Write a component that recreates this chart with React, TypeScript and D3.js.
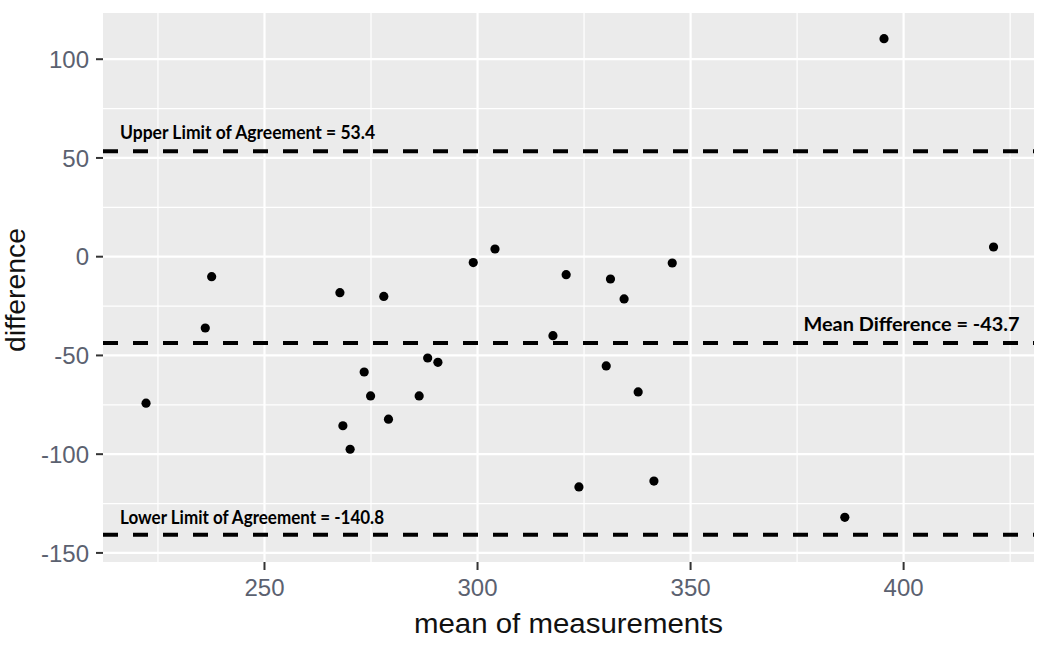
import React from "react";
import * as d3 from "d3";

const meanVals = [222.2, 237.6, 236.1, 267.7, 278.0, 299.0, 304.1, 273.4, 274.9, 268.4, 270.1, 279.1, 286.3, 288.3, 290.7, 320.8, 331.2, 334.4, 345.7, 317.7, 330.2, 337.7, 323.8, 341.4, 395.4, 421.1, 386.2];
const diffVals = [-74.2, -10.1, -36.1, -18.2, -20.1, -3.0, 3.9, -58.4, -70.5, -85.6, -97.5, -82.3, -70.5, -51.3, -53.5, -9.1, -11.3, -21.4, -3.2, -40.0, -55.3, -68.5, -116.6, -113.6, 110.4, 4.9, -132.0];
const refValues = [53.4, -43.7, -140.8];
const refLabels = ["Upper Limit of Agreement = 53.4", "Mean Difference = -43.7", "Lower Limit of Agreement = -140.8"];
const xTicks = [250, 300, 350, 400];
const xMinor = [225, 275, 325, 375, 425];
const yTicks = [-150, -100, -50, 0, 50, 100];
const yMinor = [-125, -75, -25, 25, 75, 125];

const W = 1050, H = 647;
const L = 103, R = 1034, T = 13, B = 562;

export default function App() {
  const x = d3.scaleLinear().domain([212.1, 430.6]).range([L, R]);
  const y = d3.scaleLinear().domain([-154.6, 123.4]).range([B, T]);
  const tickColor = "#5b6170";
  const font = "'Liberation Sans', Arial, sans-serif";
  const labelFont = "Lato, 'Open Sans', sans-serif";
  return (
    <svg width={W} height={H} style={{ position: "fixed", left: 0, top: 0, background: "#fff" }}>
      <rect x={L} y={T} width={R - L} height={B - T} fill="#EBEBEB" />
      {xMinor.filter(v => x(v) > L && x(v) < R).map(v => (
        <line key={"xm" + v} x1={x(v)} x2={x(v)} y1={T} y2={B} stroke="#fff" strokeWidth={1.2} />
      ))}
      {yMinor.filter(v => y(v) > T && y(v) < B).map(v => (
        <line key={"ym" + v} x1={L} x2={R} y1={y(v)} y2={y(v)} stroke="#fff" strokeWidth={1.2} />
      ))}
      {xTicks.map(v => (
        <line key={"xg" + v} x1={x(v)} x2={x(v)} y1={T} y2={B} stroke="#fff" strokeWidth={2.2} />
      ))}
      {yTicks.map(v => (
        <line key={"yg" + v} x1={L} x2={R} y1={y(v)} y2={y(v)} stroke="#fff" strokeWidth={2.2} />
      ))}
      {refValues.map(v => (
        <line key={"r" + v} x1={L} x2={R} y1={y(v)} y2={y(v)} stroke="#000" strokeWidth={4} strokeDasharray="15,15" />
      ))}
      {meanVals.map((m, i) => (
        <circle key={"p" + i} cx={x(m)} cy={y(diffVals[i])} r={4.6} fill="#000" />
      ))}
      <text x={x(216.1)} y={y(refValues[0]) - 12} fontFamily={labelFont} fontWeight="bold" fontSize={19.5} textLength={255} lengthAdjust="spacingAndGlyphs" fill="#000">{refLabels[0]}</text>
      <text x={x(427.2)} y={y(refValues[1]) - 12} textAnchor="end" fontFamily={labelFont} fontWeight="bold" fontSize={19.5} textLength={216} lengthAdjust="spacingAndGlyphs" fill="#000">{refLabels[1]}</text>
      <text x={x(216.1)} y={y(refValues[2]) - 11} fontFamily={labelFont} fontWeight="bold" fontSize={19.5} textLength={264} lengthAdjust="spacingAndGlyphs" fill="#000">{refLabels[2]}</text>
      {yTicks.map(v => (
        <g key={"yt" + v}>
          <line x1={L - 7} x2={L} y1={y(v)} y2={y(v)} stroke="#333" strokeWidth={2} />
          <text x={L - 14} y={y(v)} dy="0.36em" textAnchor="end" fontFamily={font} fontSize={24} fill={tickColor}>{v}</text>
        </g>
      ))}
      {xTicks.map(v => (
        <g key={"xt" + v}>
          <line x1={x(v)} x2={x(v)} y1={B} y2={B + 8} stroke="#333" strokeWidth={2} />
          <text x={x(v)} y={B + 34} textAnchor="middle" fontFamily={font} fontSize={24} fill={tickColor}>{v}</text>
        </g>
      ))}
      <text x={(L + R) / 2} y={633} textAnchor="middle" fontFamily={font} fontSize={27} textLength={309} lengthAdjust="spacingAndGlyphs" fill="#111">mean of measurements</text>
      <text transform={`translate(25,290) rotate(-90)`} textAnchor="middle" fontFamily={font} fontSize={27} textLength={124} lengthAdjust="spacingAndGlyphs" fill="#111">difference</text>
    </svg>
  );
}
